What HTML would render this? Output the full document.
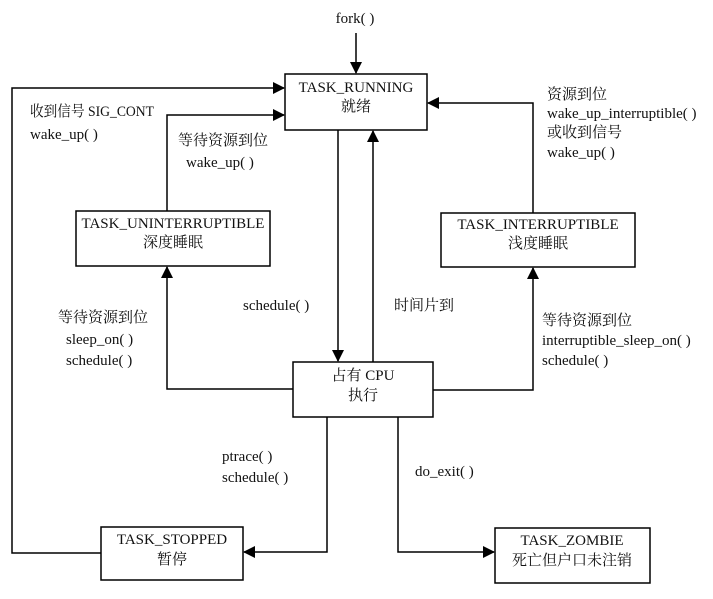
<!DOCTYPE html>
<html><head><meta charset="utf-8"><style>
html,body{margin:0;padding:0;background:#fff;}
svg text{font-family:"Liberation Serif","Noto Serif CJK SC",serif;font-size:15px;fill:#111;}
</style></head><body>
<svg width="713" height="594" viewBox="0 0 713 594" xmlns="http://www.w3.org/2000/svg">
<defs><marker id="a" markerWidth="12" markerHeight="12" refX="11" refY="6" orient="auto" markerUnits="userSpaceOnUse"><path d="M0,0 L12,6 L0,12 z" fill="#000"/></marker></defs>
<g fill="none" stroke="#000" stroke-width="1.5">
<rect x="285" y="74" width="142" height="56"/>
<rect x="76" y="211" width="194" height="55"/>
<rect x="441" y="213" width="194" height="54"/>
<rect x="293" y="362" width="140" height="55"/>
<rect x="101" y="527" width="142" height="53"/>
<rect x="495" y="528" width="155" height="55"/>
<path d="M356,33 V73" marker-end="url(#a)"/>
<path d="M101,553 H12 V88 H284" marker-end="url(#a)"/>
<path d="M167,211 V115 H284" marker-end="url(#a)"/>
<path d="M533,213 V103 H428" marker-end="url(#a)"/>
<path d="M338,130 V361" marker-end="url(#a)"/>
<path d="M373,362 V131" marker-end="url(#a)"/>
<path d="M293,389 H167 V267" marker-end="url(#a)"/>
<path d="M433,390 H533 V268" marker-end="url(#a)"/>
<path d="M327,417 V552 H244" marker-end="url(#a)"/>
<path d="M398,417 V552 H494" marker-end="url(#a)"/>
</g>
<g text-anchor="middle">
<text x="355" y="23" font-size="16">fork( )</text>
<text x="356" y="92">TASK_RUNNING</text>
<text x="356" y="111">就绪</text>
<text x="173" y="228" font-size="13">TASK_UNINTERRUPTIBLE</text>
<text x="173" y="247">深度睡眠</text>
<text x="538" y="229" font-size="13">TASK_INTERRUPTIBLE</text>
<text x="538" y="248">浅度睡眠</text>
<text x="363" y="380">占有 CPU</text>
<text x="363" y="400">执行</text>
<text x="172" y="544">TASK_STOPPED</text>
<text x="172" y="564">暂停</text>
<text x="572" y="545">TASK_ZOMBIE</text>
<text x="572" y="565">死亡但户口未注销</text>
</g>
<text x="30" y="116" font-size="13" textLength="124" lengthAdjust="spacingAndGlyphs">收到信号 SIG_CONT</text>
<text x="30" y="139" font-size="16">wake_up( )</text>
<text x="178" y="145">等待资源到位</text>
<text x="186" y="167" font-size="16">wake_up( )</text>
<text x="547" y="99">资源到位</text>
<text x="547" y="118" font-size="14">wake_up_interruptible( )</text>
<text x="547" y="137">或收到信号</text>
<text x="547" y="157" font-size="14">wake_up( )</text>
<text x="243" y="310" font-size="16">schedule( )</text>
<text x="394" y="310">时间片到</text>
<text x="58" y="322">等待资源到位</text>
<text x="66" y="344" font-size="16">sleep_on( )</text>
<text x="66" y="365" font-size="16">schedule( )</text>
<text x="542" y="325">等待资源到位</text>
<text x="542" y="345" font-size="14">interruptible_sleep_on( )</text>
<text x="542" y="365" font-size="16">schedule( )</text>
<text x="222" y="461" font-size="16">ptrace( )</text>
<text x="222" y="482" font-size="16">schedule( )</text>
<text x="415" y="476" font-size="16">do_exit( )</text>
</svg>
</body></html>
